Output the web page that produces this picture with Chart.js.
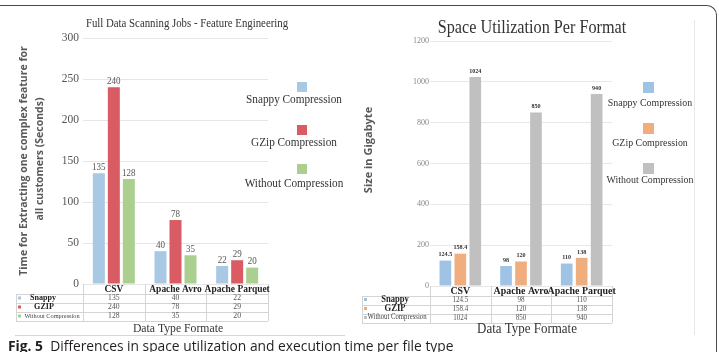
<!DOCTYPE html>
<html><head><meta charset="utf-8">
<script src="https://cdn.jsdelivr.net/npm/chart.js@4.4.1/dist/chart.umd.min.js"></script>
<style>
html,body{margin:0;padding:0;background:#fff;}
body{width:719px;height:352px;overflow:hidden;position:relative;}
.box{position:absolute;}
</style></head><body>
<div class="box" style="left:-20px;top:5px;width:737px;height:400px;box-sizing:border-box;border-top:1.5px solid #4a4a4a;border-right:1.5px solid #4a4a4a;border-top-right-radius:10px;"></div>
<div class="box" style="left:694px;top:20px;width:1px;height:315px;background:#e8e8e8"></div>
<div class="box" style="left:15px;top:335px;width:330px;height:1px;background:#d6d6d6"></div>
<div class="box" style="left:0;top:0;width:360px;height:340px"><canvas id="c1"></canvas></div>
<div class="box" style="left:360px;top:0;width:335px;height:340px"><canvas id="c2"></canvas></div>
<div class="box" style="left:8px;top:339px;font:13.8px/14px 'Open Sans',sans-serif;color:#231f20;white-space:nowrap"><b>Fig. 5</b>&nbsp; Differences in space utilization and execution time per file type</div>
<script>
const categories = ['CSV', 'Apache Avro', 'Apache Parquet'];
const seriesNames = ['Snappy Compression', 'GZip Compression', 'Without Compression'];
const tableRowNames = ['Snappy', 'GZIP', 'Without Compression'];
const timeSnappy = [135, 40, 22];
const timeGzip = [240, 78, 29];
const timeNone = [128, 35, 20];
const timeTicks = [0, 50, 100, 150, 200, 250, 300];
const sizeSnappy = [124.5, 98, 110];
const sizeGzip = [158.4, 120, 138];
const sizeNone = [1024, 850, 940];
const sizeTicks = [0, 200, 400, 600, 800, 1000, 1200];

const SERIF = '"Liberation Serif","Times New Roman",serif';
const SANS = '"Open Sans","Noto Sans",sans-serif';
const SX = 0.9;

function txt(ctx, s, x, y, o) {
  ctx.save();
  ctx.font = (o.weight || 'normal') + ' ' + o.size + 'px ' + (o.family || SERIF);
  ctx.fillStyle = o.color || '#333';
  ctx.textAlign = o.align || 'center';
  ctx.textBaseline = 'middle';
  ctx.translate(x, y);
  if (o.rot) ctx.rotate(o.rot);
  ctx.scale(o.sx === undefined ? SX : o.sx, 1);
  ctx.fillText(s, 0, 0);
  ctx.restore();
}

function decor(cfg) {
  return {
    id: 'decor',
    afterDatasetsDraw(chart) {
      const ctx = chart.ctx, a = chart.chartArea, xs = chart.scales.x;
      const n = chart.data.labels.length, cw = (a.right - a.left) / n, b = a.bottom;
      const last = cfg.rowLines[cfg.rowLines.length - 1];
      chart.data.datasets.forEach((ds, di) => {
        chart.getDatasetMeta(di).data.forEach((el, i) => {
          txt(ctx, String(ds.data[i]), el.x, el.y - cfg.labelGap, cfg.labelFont);
        });
      });
      ctx.save();
      ctx.strokeStyle = cfg.tableColor; ctx.lineWidth = 1;
      ctx.beginPath();
      for (let k = 0; k <= n; k++) {
        const x = Math.round(a.left + k * cw) + 0.5;
        ctx.moveTo(x, b); ctx.lineTo(x, b + last);
      }
      cfg.rowLines.forEach(dy => {
        const y = Math.round(b + dy) + 0.5;
        ctx.moveTo(cfg.tableLeft, y); ctx.lineTo(a.right, y);
      });
      ctx.moveTo(cfg.tableLeft + 0.5, b + cfg.rowLines[0]); ctx.lineTo(cfg.tableLeft + 0.5, b + last);
      ctx.stroke();
      ctx.restore();
      chart.data.labels.forEach((lab, i) => txt(ctx, lab, xs.getPixelForValue(i), b + cfg.headerDy, cfg.headerFont));
      chart.data.datasets.forEach((ds, di) => {
        const y = b + cfg.rowDy[di];
        ctx.fillStyle = ds.backgroundColor;
        ctx.fillRect(cfg.markerX, y - 1.5, 3, 3);
        txt(ctx, tableRowNames[di], cfg.rowLabelX[di], y, di === 2 ? cfg.rowSmallFont : cfg.rowLabelFont);
        ds.data.forEach((v, i) => txt(ctx, String(v), xs.getPixelForValue(i), y, cfg.valueFont));
      });
      chart.data.datasets.forEach((ds, di) => {
        ctx.fillStyle = ds.backgroundColor;
        ctx.fillRect(cfg.legSqX, cfg.legSqY[di], cfg.legSq, cfg.legSq);
        txt(ctx, ds.label, cfg.legTextX, cfg.legTextY[di], cfg.legFont);
      });
      txt(ctx, cfg.title, cfg.titleX, cfg.titleY, cfg.titleFont);
      cfg.yTitle.forEach((line, k) => txt(ctx, line, cfg.yTitleX[k], cfg.yTitleY[k], Object.assign({ rot: -Math.PI / 2 }, cfg.yTitleFont)));
      txt(ctx, cfg.xTitle, cfg.xTitleX, cfg.xTitleY, cfg.xTitleFont);
    }
  };
}

function makeChart(id, series, colors, ticks, opt, cfg) {
  return new Chart(document.getElementById(id), {
    type: 'bar',
    data: {
      labels: categories,
      datasets: series.map((d, i) => ({
        label: seriesNames[i], data: d, backgroundColor: colors[i], borderWidth: 0,
        categoryPercentage: opt.cat, barPercentage: opt.bar
      }))
    },
    options: {
      responsive: true, maintainAspectRatio: false, animation: false,
      layout: { padding: opt.pad },
      plugins: { legend: { display: false }, title: { display: false }, tooltip: { enabled: false } },
      scales: {
        x: { display: false, offset: true },
        y: {
          min: ticks[0], max: ticks[ticks.length - 1],
          afterBuildTicks: s => { s.ticks = ticks.map(v => ({ value: v })); },
          afterFit: s => { s.width = opt.yWidth; },
          ticks: { font: opt.tickFont, color: opt.tickColor, padding: opt.tickPad, callback: v => String(v) },
          grid: { color: opt.gridColor, drawTicks: false },
          border: { display: false }
        }
      }
    },
    plugins: [decor(cfg)]
  });
}

makeChart('c1', [timeSnappy, timeGzip, timeNone], ['#a8c8e3', '#d95c64', '#aacf8f'], timeTicks,
  { cat: 0.73, bar: 0.8, pad: { left: 0, top: 38, right: 92, bottom: 56 }, yWidth: 83,
    tickFont: { family: SERIF, size: 11.5 }, tickColor: '#555', tickPad: 4, gridColor: '#e6e6e6' },
  { labelGap: 6, labelFont: { size: 10, color: '#555' },
    tableColor: '#d4d4d4', tableLeft: 16, rowLines: [10, 19, 28, 37], headerDy: 5,
    headerFont: { size: 10.5, weight: 'bold', color: '#222' },
    rowDy: [14, 23, 32], markerX: 18, rowLabelX: [43, 44, 52],
    rowLabelFont: { size: 9, weight: 'bold', color: '#222' }, rowSmallFont: { size: 7, color: '#444' },
    valueFont: { size: 8.5, color: '#555' },
    legSqX: 297, legSqY: [82, 125, 164], legSq: 10, legTextX: 294, legTextY: [100, 143, 184],
    legFont: { size: 12.5, color: '#333' },
    title: 'Full Data Scanning Jobs - Feature Engineering', titleX: 187, titleY: 24, titleFont: { size: 12, color: '#333' },
    yTitle: ['Time for Extracting one complex feature for', 'all customers (Seconds)'], yTitleX: [24, 40], yTitleY: [161, 159],
    yTitleFont: { size: 10.5, weight: 'bold', family: SANS, color: '#595959', sx: 1 },
    xTitle: 'Data Type Formate', xTitleX: 178, xTitleY: 329, xTitleFont: { size: 13, color: '#333' } });

makeChart('c2', [sizeSnappy, sizeGzip, sizeNone], ['#9ec3e5', '#f0ae7e', '#c0c0c0'], sizeTicks,
  { cat: 0.74, bar: 0.78, pad: { left: 0, top: 41, right: 83, bottom: 54 }, yWidth: 70,
    tickFont: { family: SERIF, size: 8 }, tickColor: '#888', tickPad: 1, gridColor: '#e8e8e8' },
  { labelGap: 6, labelFont: { size: 6.8, weight: 'bold', color: '#333' },
    tableColor: '#d4d4d4', tableLeft: 2, rowLines: [10, 19, 28, 37], headerDy: 5,
    headerFont: { size: 11, weight: 'bold', color: '#222' },
    rowDy: [13.5, 22.5, 31.5], markerX: 4, rowLabelX: [35, 35, 37],
    rowLabelFont: { size: 9.5, weight: 'bold', color: '#222' }, rowSmallFont: { size: 7.5, color: '#444' },
    valueFont: { size: 7.8, color: '#555' },
    legSqX: 283, legSqY: [82, 123, 163], legSq: 11, legTextX: 290, legTextY: [103, 143, 180],
    legFont: { size: 11, color: '#333' },
    title: 'Space Utilization Per Format', titleX: 172, titleY: 28, titleFont: { size: 18, color: '#333' },
    yTitle: ['Size in Gigabyte'], yTitleX: [9], yTitleY: [150],
    yTitleFont: { size: 11, weight: 'bold', family: SANS, color: '#595959', sx: 1 },
    xTitle: 'Data Type Formate', xTitleX: 167, xTitleY: 329, xTitleFont: { size: 14.4, color: '#333' } });
</script>
</body></html>
